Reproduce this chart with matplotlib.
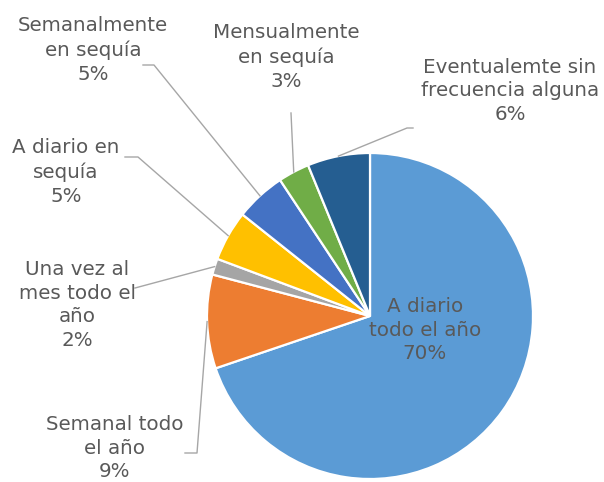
import matplotlib
matplotlib.use("Agg")
import matplotlib.pyplot as plt
import numpy as np
from matplotlib.lines import Line2D

categories = ["A diario\ntodo el año", "Semanal todo\nel año", "Una vez al\nmes todo el\naño",
              "A diario en\nsequía", "Semanalmente\nen sequía", "Mensualmente\nen sequía",
              "Eventualemte sin\nfrecuencia alguna"]
shares = [69.8, 9.3, 1.6, 5.0, 5.0, 3.1, 6.2]
colors = ["#5B9BD5", "#ED7D31", "#A5A5A5", "#FFC000", "#4472C4", "#70AD47", "#255E91"]

W, H = 604, 482
fig = plt.figure(figsize=(W / 100, H / 100), dpi=100)
plt.rcParams['font.family'] = ['DejaVu Sans']

cx, cy, R = 370, 316, 163
ax = fig.add_axes([(cx - R) / W, (H - cy - R) / H, 2 * R / W, 2 * R / H])
wedges, _ = ax.pie(shares, colors=colors, startangle=90, counterclock=False,
                   wedgeprops=dict(edgecolor="white", linewidth=1.6))
ax.set_xlim(-1, 1)
ax.set_ylim(-1, 1)
ax.set_aspect("auto")
ax.axis("off")

def fp(x, y):
    return (x / W, 1 - y / H)

tc = "#595959"
lc = "#A6A6A6"
fs = 14.3

# label layout (pixel positions of text centers) and leader elbow points
layout = [
    ((425, 330), None),
    ((115, 448), [(185, 453), (197, 453)]),
    ((77, 305), [(135, 288)]),
    ((66, 172), [(125, 157), (138, 157)]),
    ((93, 50), [(143, 65), (154, 65)]),
    ((286, 57), [(291, 113)]),
    ((510, 91), [(413, 128), (407, 128)]),
]

labels = [f"{c}\n{s:.0f}%" for c, s in zip(categories, shares)]
to_fig = ax.transData + fig.transFigure.inverted()

for w, lab, (pos, elbow) in zip(wedges, labels, layout):
    fig.text(*fp(*pos), lab, ha="center", va="center", fontsize=fs, color=tc,
             linespacing=1.32)
    if elbow is None:
        continue
    ang = np.deg2rad((w.theta1 + w.theta2) / 2)
    ex, ey = to_fig.transform((np.cos(ang), np.sin(ang)))
    pts = [fp(*p) for p in elbow] + [(ex, ey)]
    xs = [p[0] for p in pts]
    ys = [p[1] for p in pts]
    fig.add_artist(Line2D(xs, ys, transform=fig.transFigure, color=lc, linewidth=1.0))

fig.savefig("out.png", dpi=100, facecolor="white")
